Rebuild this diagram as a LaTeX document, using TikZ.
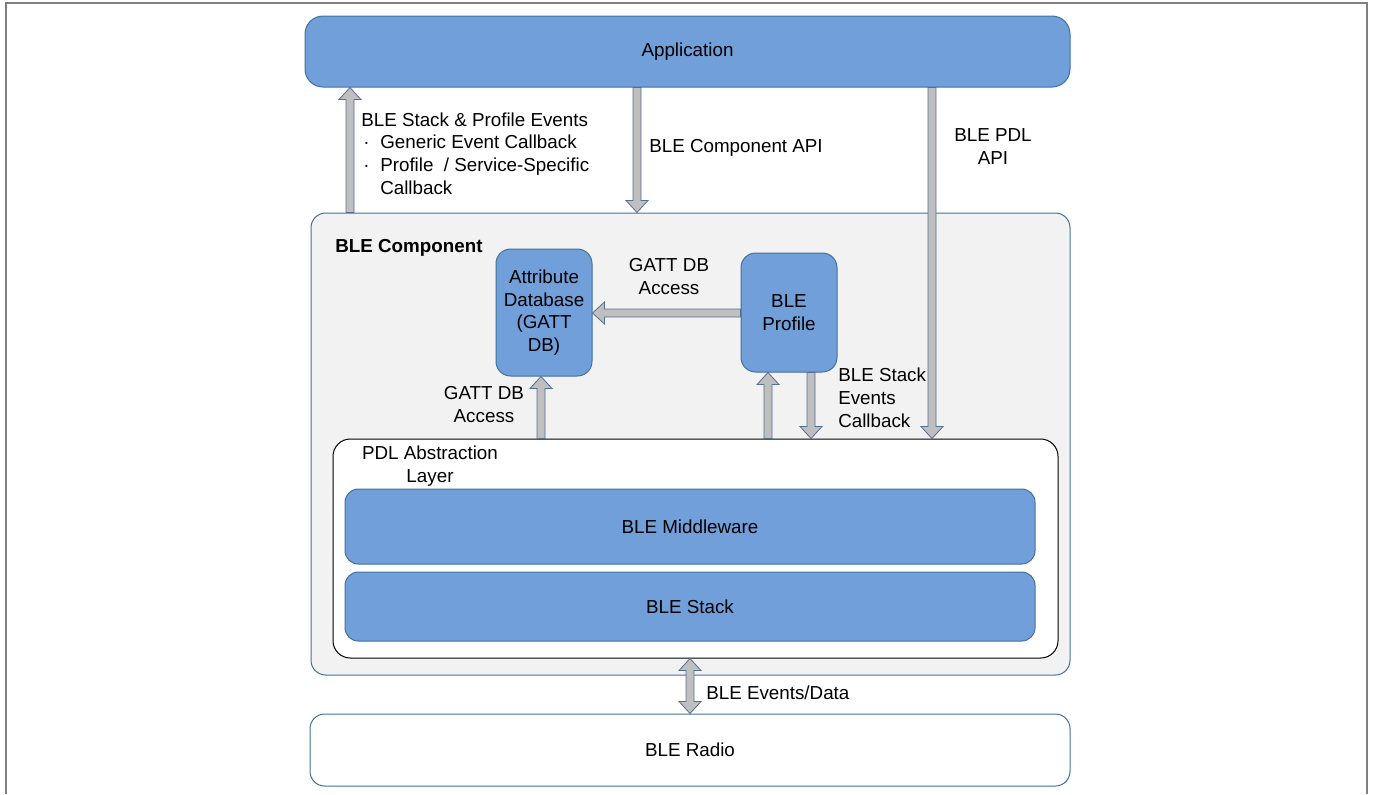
\documentclass[tikz,border=0pt]{standalone}
\usepackage{fontspec}
\setmainfont{Liberation Sans}
\usetikzlibrary{calc}

\definecolor{boxblue}{RGB}{113,159,218}
\definecolor{edgeblue}{RGB}{65,113,156}
\definecolor{compfill}{RGB}{242,242,242}
\definecolor{framegray}{RGB}{128,128,128}
\definecolor{arrowgray}{RGB}{191,191,191}
\definecolor{arrowedge}{RGB}{84,110,148}

% block arrow geometry: half shaft width, half head width, head length
\newcommand\bashaft{3pt}
\newcommand\bahead{8.25pt}
\newcommand\balen{9pt}

% single-headed block arrow from #1 to #2
\newcommand\blockarrow[2]{%
  \coordinate (ba-s) at (#1);
  \coordinate (ba-e) at (#2);
  \coordinate (ba-h) at ($(ba-e)!\balen!(ba-s)$);
  \filldraw[barrow]
    ($(ba-s)!\bashaft!90:(ba-e)$) -- ($(ba-h)!\bashaft!90:(ba-e)$) --
    ($(ba-h)!\bahead!90:(ba-e)$) -- (ba-e) --
    ($(ba-h)!\bahead!-90:(ba-e)$) -- ($(ba-h)!\bashaft!-90:(ba-e)$) --
    ($(ba-s)!\bashaft!-90:(ba-e)$) -- cycle;}

% double-headed block arrow between #1 and #2
\newcommand\dblockarrow[2]{%
  \coordinate (ba-s) at (#1);
  \coordinate (ba-e) at (#2);
  \coordinate (ba-hs) at ($(ba-s)!\balen!(ba-e)$);
  \coordinate (ba-he) at ($(ba-e)!\balen!(ba-s)$);
  \filldraw[barrow]
    (ba-s) -- ($(ba-hs)!\bahead!90:(ba-e)$) -- ($(ba-hs)!\bashaft!90:(ba-e)$) --
    ($(ba-he)!\bashaft!90:(ba-e)$) -- ($(ba-he)!\bahead!90:(ba-e)$) -- (ba-e) --
    ($(ba-he)!\bahead!-90:(ba-e)$) -- ($(ba-he)!\bashaft!-90:(ba-e)$) --
    ($(ba-hs)!\bashaft!-90:(ba-e)$) -- ($(ba-hs)!\bahead!-90:(ba-e)$) -- cycle;}

\begin{document}
\begin{tikzpicture}[x=0.75pt,y=-0.75pt,
  every node/.style={font=\fontsize{14.1}{17}\selectfont, text=black},
  size/.style 2 args={minimum width=#1*0.75pt, minimum height=#2*0.75pt},
  bluebox/.style={draw=edgeblue, fill=boxblue, line width=0.75pt, inner sep=0pt, align=center},
  compbox/.style={draw=edgeblue, fill=compfill, line width=0.75pt, inner sep=0pt, rounded corners=11pt},
  radiobox/.style={draw=edgeblue, fill=white, line width=0.75pt, inner sep=0pt, rounded corners=11pt},
  pdlbox/.style={draw=black, fill=white, line width=0.75pt, inner sep=0pt, rounded corners=13pt},
  lbl/.style={inner sep=0pt},
  barrow/.style={fill=arrowgray, draw=arrowedge, line width=0.6pt, line join=miter}]

\useasboundingbox (0,0) rectangle (1373,794);

% page frame
\draw[framegray, line width=1.5pt] (6,794) -- (6,3) -- (1367,3) -- (1367,794);

% application layer
\node[bluebox, rounded corners=13.5pt, size={765}{71}] (app) at (687.5,51.5) {Application};

% BLE component container
\node[compbox, size={759}{462}] (comp) at (690.5,444) {};
\node[lbl, anchor=base west, font=\fontsize{14.1}{17}\selectfont\bfseries] (complbl) at (335,252) {BLE Component};

\node[bluebox, rounded corners=11pt, size={96}{127}] (attr) at (544,312.5)
  {Attribute\\Database\\(GATT\\DB)};
\node[bluebox, rounded corners=11pt, size={96}{119}] (profile) at (789,312.5)
  {BLE\\Profile};

% PDL abstraction layer
\node[pdlbox, size={725}{219}] (pdl) at (695.5,548.5) {};
\node[lbl, anchor=base, align=center] (pdllbl) at (430,482) {PDL Abstraction\\Layer};
\node[bluebox, rounded corners=10pt, size={690}{75}] (mw) at (690,526.5) {BLE Middleware};
\node[bluebox, rounded corners=10pt, size={690}{69}] (stack) at (690,606.5) {BLE Stack};

% radio
\node[radiobox, size={760}{72}] (radio) at (690,750) {BLE Radio};

% arrow positions
\coordinate (xa) at (350,0);
\coordinate (xb) at (637,0);
\coordinate (xc) at (932,0);
\coordinate (xd) at (541,0);
\coordinate (xe) at (768,0);
\coordinate (xf) at (811,0);
\coordinate (xg) at (690,0);
\coordinate (yh) at (0,313);

\blockarrow{comp.north -| xa}{app.south -| xa}
\blockarrow{app.south -| xb}{comp.north -| xb}
\blockarrow{app.south -| xc}{pdl.north -| xc}
\blockarrow{profile.west |- yh}{attr.east |- yh}
\blockarrow{pdl.north -| xd}{attr.south -| xd}
\blockarrow{pdl.north -| xe}{profile.south -| xe}
\blockarrow{profile.south -| xf}{pdl.north -| xf}
\dblockarrow{pdl.south -| xg}{radio.north -| xg}

% arrow labels (multi-line labels are placed by their last baseline)
\node[lbl, anchor=base west, align=left] (evlbl) at (361,194)
  {BLE Stack \& Profile Events\\
   \makebox[14.25pt][l]{\hspace{1.5pt}·}Generic Event Callback\\
   \makebox[14.25pt][l]{\hspace{1.5pt}·}Profile\ \ / Service-Specific\\
   \hspace*{14.25pt}Callback};
\node[lbl, anchor=base west] (apilbl) at (649,152) {BLE Component API};
\node[lbl, anchor=base, align=center] (pdlapilbl) at (993,164) {BLE PDL\\API};
\node[lbl, anchor=base, align=center] (gattlbl) at (669,294) {GATT DB\\Access};
\node[lbl, anchor=base, align=center] (gattlbl2) at (484,422) {GATT DB\\Access};
\node[lbl, anchor=base west, align=left] (cblbl) at (838,427) {BLE Stack\\Events\\Callback};
\node[lbl, anchor=base west] (datalbl) at (706,699) {BLE Events/Data};

\end{tikzpicture}
\end{document}
